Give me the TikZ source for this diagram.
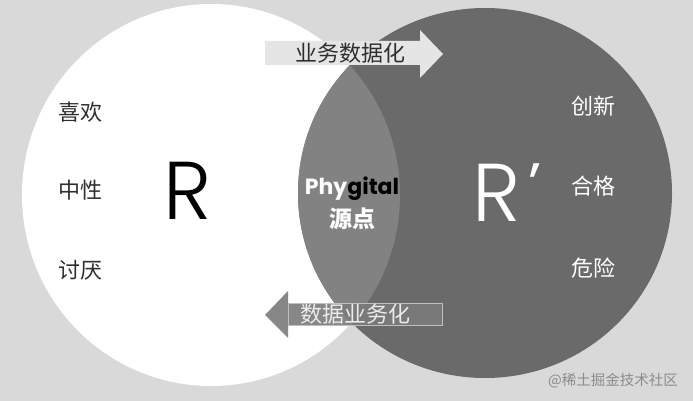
\documentclass[tikz,border=0pt]{standalone}
\usepackage{fontspec}
\setmainfont{Poppins}
\newfontfamily\cjk{Noto Sans CJK SC}
\newfontfamily\rfont{Poppins Light}
\begin{document}
\begin{tikzpicture}[x=1pt,y=-1pt,
  lbl/.style={font=\cjk\fontsize{22}{22}\selectfont, inner sep=0pt},
  big/.style={font=\rfont\fontsize{82}{82}\selectfont, inner sep=0pt}]
\definecolor{bg}{HTML}{D9D9D9}
\definecolor{dark}{HTML}{6A6A6A}
\definecolor{mid}{HTML}{828282}
\definecolor{txt}{HTML}{2E2E2E}
\useasboundingbox (0,0) rectangle (693,401);
\fill[bg] (0,0) rectangle (693,401);
% ellipses
\fill[white] (211,195) ellipse [x radius=189, y radius=191];
\fill[dark] (485,193) ellipse [x radius=187, y radius=185];
\begin{scope}
  \clip (211,195) ellipse [x radius=189, y radius=191];
  \fill[mid] (485,193) ellipse [x radius=187, y radius=185];
\end{scope}
% top arrow
\fill[white!90!black] (265,41) -- (420,41) -- (420,30) -- (443,54) -- (420,78) -- (420,65) -- (265,65) -- cycle;
\node[lbl, text=txt] (t1) at (350,53) {业务数据化};
% bottom arrow
\fill[mid!95!black, opacity=0.9] (442,303) -- (288,303) -- (288,291) -- (265,315) -- (288,338) -- (288,325) -- (442,325) -- cycle;
\draw[white!75!black, line width=0.8] (288,303) rectangle (442,325);
\node[lbl, text=white!92!black] (t2) at (355,314) {数据业务化};
% left labels
\node[lbl, text=txt] (l1) at (80,112) {喜欢};
\node[lbl, text=txt] (l2) at (80,190) {中性};
\node[lbl, text=txt] (l3) at (80,270) {讨厌};
% right labels
\node[lbl, text=white] (r1) at (593,106) {创新};
\node[lbl, text=white] (r2) at (593,186) {合格};
\node[lbl, text=white] (r3) at (593,268) {危险};
% big letters
\node[big, text=black] (R) at (188,191) {R};
\node[big, text=white] (Rp) at (497,193) {R};
\node[inner sep=0pt, text=white, font=\fontsize{60}{60}\selectfont] (ap) at (535,185) {’};
% center
\node[inner sep=0pt, font=\fontsize{22}{22}\selectfont\bfseries] (ph) at (352,189) {\textcolor{white}{Phy}\textcolor{black}{gital}};
\node[inner sep=0pt, text=white, font=\cjk\fontsize{23}{23}\selectfont\bfseries] (yd) at (352,219) {源点};
% watermark
\node[inner sep=0pt, text=white!55!black, font=\cjk\fontsize{14.5}{14.5}\selectfont] (wm) at (613,381) {@稀土掘金技术社区};
\end{tikzpicture}
\end{document}
